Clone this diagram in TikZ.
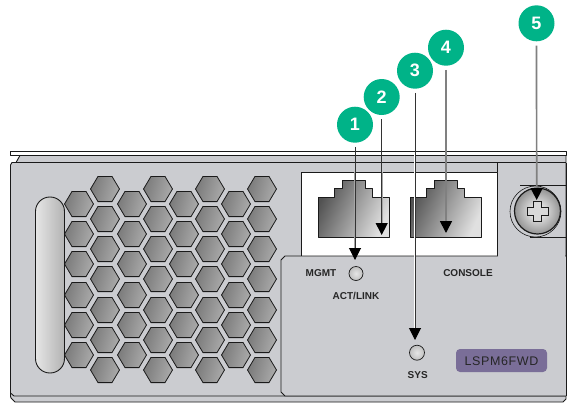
\documentclass[tikz,border=0pt]{standalone}
\usepackage{fontspec}
\setmainfont{Liberation Sans}
\usetikzlibrary{arrows.meta}
\definecolor{panel}{HTML}{CBCCD0}
\definecolor{edgeblack}{HTML}{1A1A1A}
\definecolor{bubble}{HTML}{00B388}
\definecolor{tagfill}{HTML}{7A6E98}
\tikzset{
  x=1pt,y=-1pt,
  outline/.style={draw=edgeblack,line width=0.9pt,line join=round},
  hexcell/.style={draw=edgeblack,line width=0.8pt,left color=black!52,right color=black!33,shading angle=75},
  callout/.style={circle,fill=bubble,minimum size=36pt,inner sep=0pt,text=white,font=\bfseries\fontsize{18}{18}\selectfont},
  leader/.style={draw=#1,-{Triangle[width=12pt,length=12pt,color=black]},shorten <=4pt},
  thinlead/.style={leader=black!80,line width=1pt},
  widelead/.style={leader=black!50,line width=1.7pt},
  paneltext/.style={font=\bfseries\fontsize{10}{10}\selectfont,text=black!85,inner sep=0pt},
  led/.style={circle,draw=edgeblack,line width=0.7pt,inner color=white!90!black,outer color=black!25,inner sep=0pt},
}
\newcommand{\hexat}[2]{\path[hexcell] (#1-14.5,#2) -- (#1-7,#2-12.6) -- (#1+7,#2-12.6) -- (#1+14.5,#2) -- (#1+7,#2+12.6) -- (#1-7,#2+12.6) -- cycle;}
\newcommand{\portat}[1]{\path[outline,left color=black!68,right color=black!12,shading angle=65]
  (#1,237) -- (#1,197) -- (#1+16,197) -- (#1+16,188) -- (#1+24,188) -- (#1+24,180) -- (#1+47,180) -- (#1+47,188) -- (#1+54,188) -- (#1+54,197) -- (#1+71,197) -- (#1+71,237) -- cycle;}
\begin{document}
\begin{tikzpicture}
\useasboundingbox (0,0) rectangle (582,416);
\fill[white] (0,0) rectangle (582,416);
% top strip and body
\path[outline] (10.5,151) rectangle (566,155.5);
\path[outline,fill=panel] (20,155.5) -- (566,155.5) -- (566,397) -- (566,399) -- (563,402) -- (15,402) -- (11,398) -- (10.5,396) -- (10.5,165) -- (12,162.5) -- (16,162.5) -- cycle;
\draw[outline] (12,162.5) -- (566,162.5);
\draw[outline] (10.5,393) -- (14,396) -- (566,396);
% vent
\foreach \cx in {79,132,184,236}
  \foreach \cy in {204,234,264,295,325,355} { \hexat{\cx}{\cy} }
\foreach \cx in {105,158,210,262}
  \foreach \cy in {189,219,249,279,310,340,370} { \hexat{\cx}{\cy} }
% handle
\path[outline,left color=black!10,right color=black!30,rounded corners=14.4pt] (35.5,197) rectangle (64.5,373);
% window and inset
\path[outline,fill=white] (301.7,256) -- (301.7,172) -- (497,172) -- (497,256) -- cycle;
\draw[outline] (497,162.5) -- (497,172);
\path[outline,fill=panel] (566,256) -- (285,256) -- (281,260) -- (281,392) -- (285,396) -- (566,396);
\draw[panel,line width=2pt] (497.6,256) -- (565,256);
\path[outline] (566,162.5) -- (566,396);
\portat{318}
\portat{410}
% screw
\draw[outline] (520,185) -- (566,185);
\draw[outline] (530,237) -- (566,237);
\path[draw=edgeblack,line width=0.6pt,fill=panel] (535.5,211.5) circle[radius=25.5];
\path[draw=edgeblack,line width=1.2pt,inner color=white,outer color=black!42] (537.5,211) circle[radius=23];
\path[draw=edgeblack,line width=0.9pt,fill=white!85!black] (533,201) -- (541,201) -- (541,207) -- (548,207) -- (548,215) -- (541,215) -- (541,221.500) -- (533,221.500) -- (533,215) -- (527,215) -- (527,207) -- (533,207) -- cycle;
% LEDs and labels
\node[led,minimum size=14pt] (ledmgmt) at (356,273.500) {};
\node[led,minimum size=15pt] (ledsys) at (417,352.700) {};
\node[paneltext] (tmgmt) at (321,273.500) {MGMT};
\node[paneltext] (tact) at (356,295.500) {ACT/LINK};
\node[paneltext] (tcons) at (468,273.500) {CONSOLE};
\node[paneltext] (tsys) at (417.700,375) {SYS};
\path[fill=tagfill,rounded corners=4pt] (456,349) rectangle (547,372);
\node[inner sep=0pt,text=black!85,font=\fontsize{12.5}{12.5}\selectfont\addfontfeatures{LetterSpace=5}] (tag) at (501.500,361) {LSPM6FWD};
% callouts
\node[callout] (c1) at (355,124.700) {1};
\node[callout] (c2) at (381.700,97) {2};
\node[callout] (c3) at (415,70.700) {3};
\node[callout] (c4) at (446,47.700) {4};
\node[callout] (c5) at (536.500,23.300) {5};
\coordinate (e1) at (355,260);
\coordinate (e2) at (381.700,235);
\coordinate (e3) at (415,340);
\coordinate (e4) at (446,233);
\coordinate (e5) at (536.700,200);
\draw[white,line width=2.4pt] (415,152) -- (415,328);
\draw[black!35,line width=2.4pt] (381.700,172) -- (381.700,223);
\draw[black!35,line width=2.4pt] (355,172) -- (355,248);
\draw[thinlead] (c1) -- (e1);
\draw[thinlead] (c2) -- (e2);
\draw[thinlead] (c3) -- (e3);
\draw[widelead] (c4) -- (e4);
\draw[widelead] (c5) -- (e5);
\end{tikzpicture}
\end{document}
